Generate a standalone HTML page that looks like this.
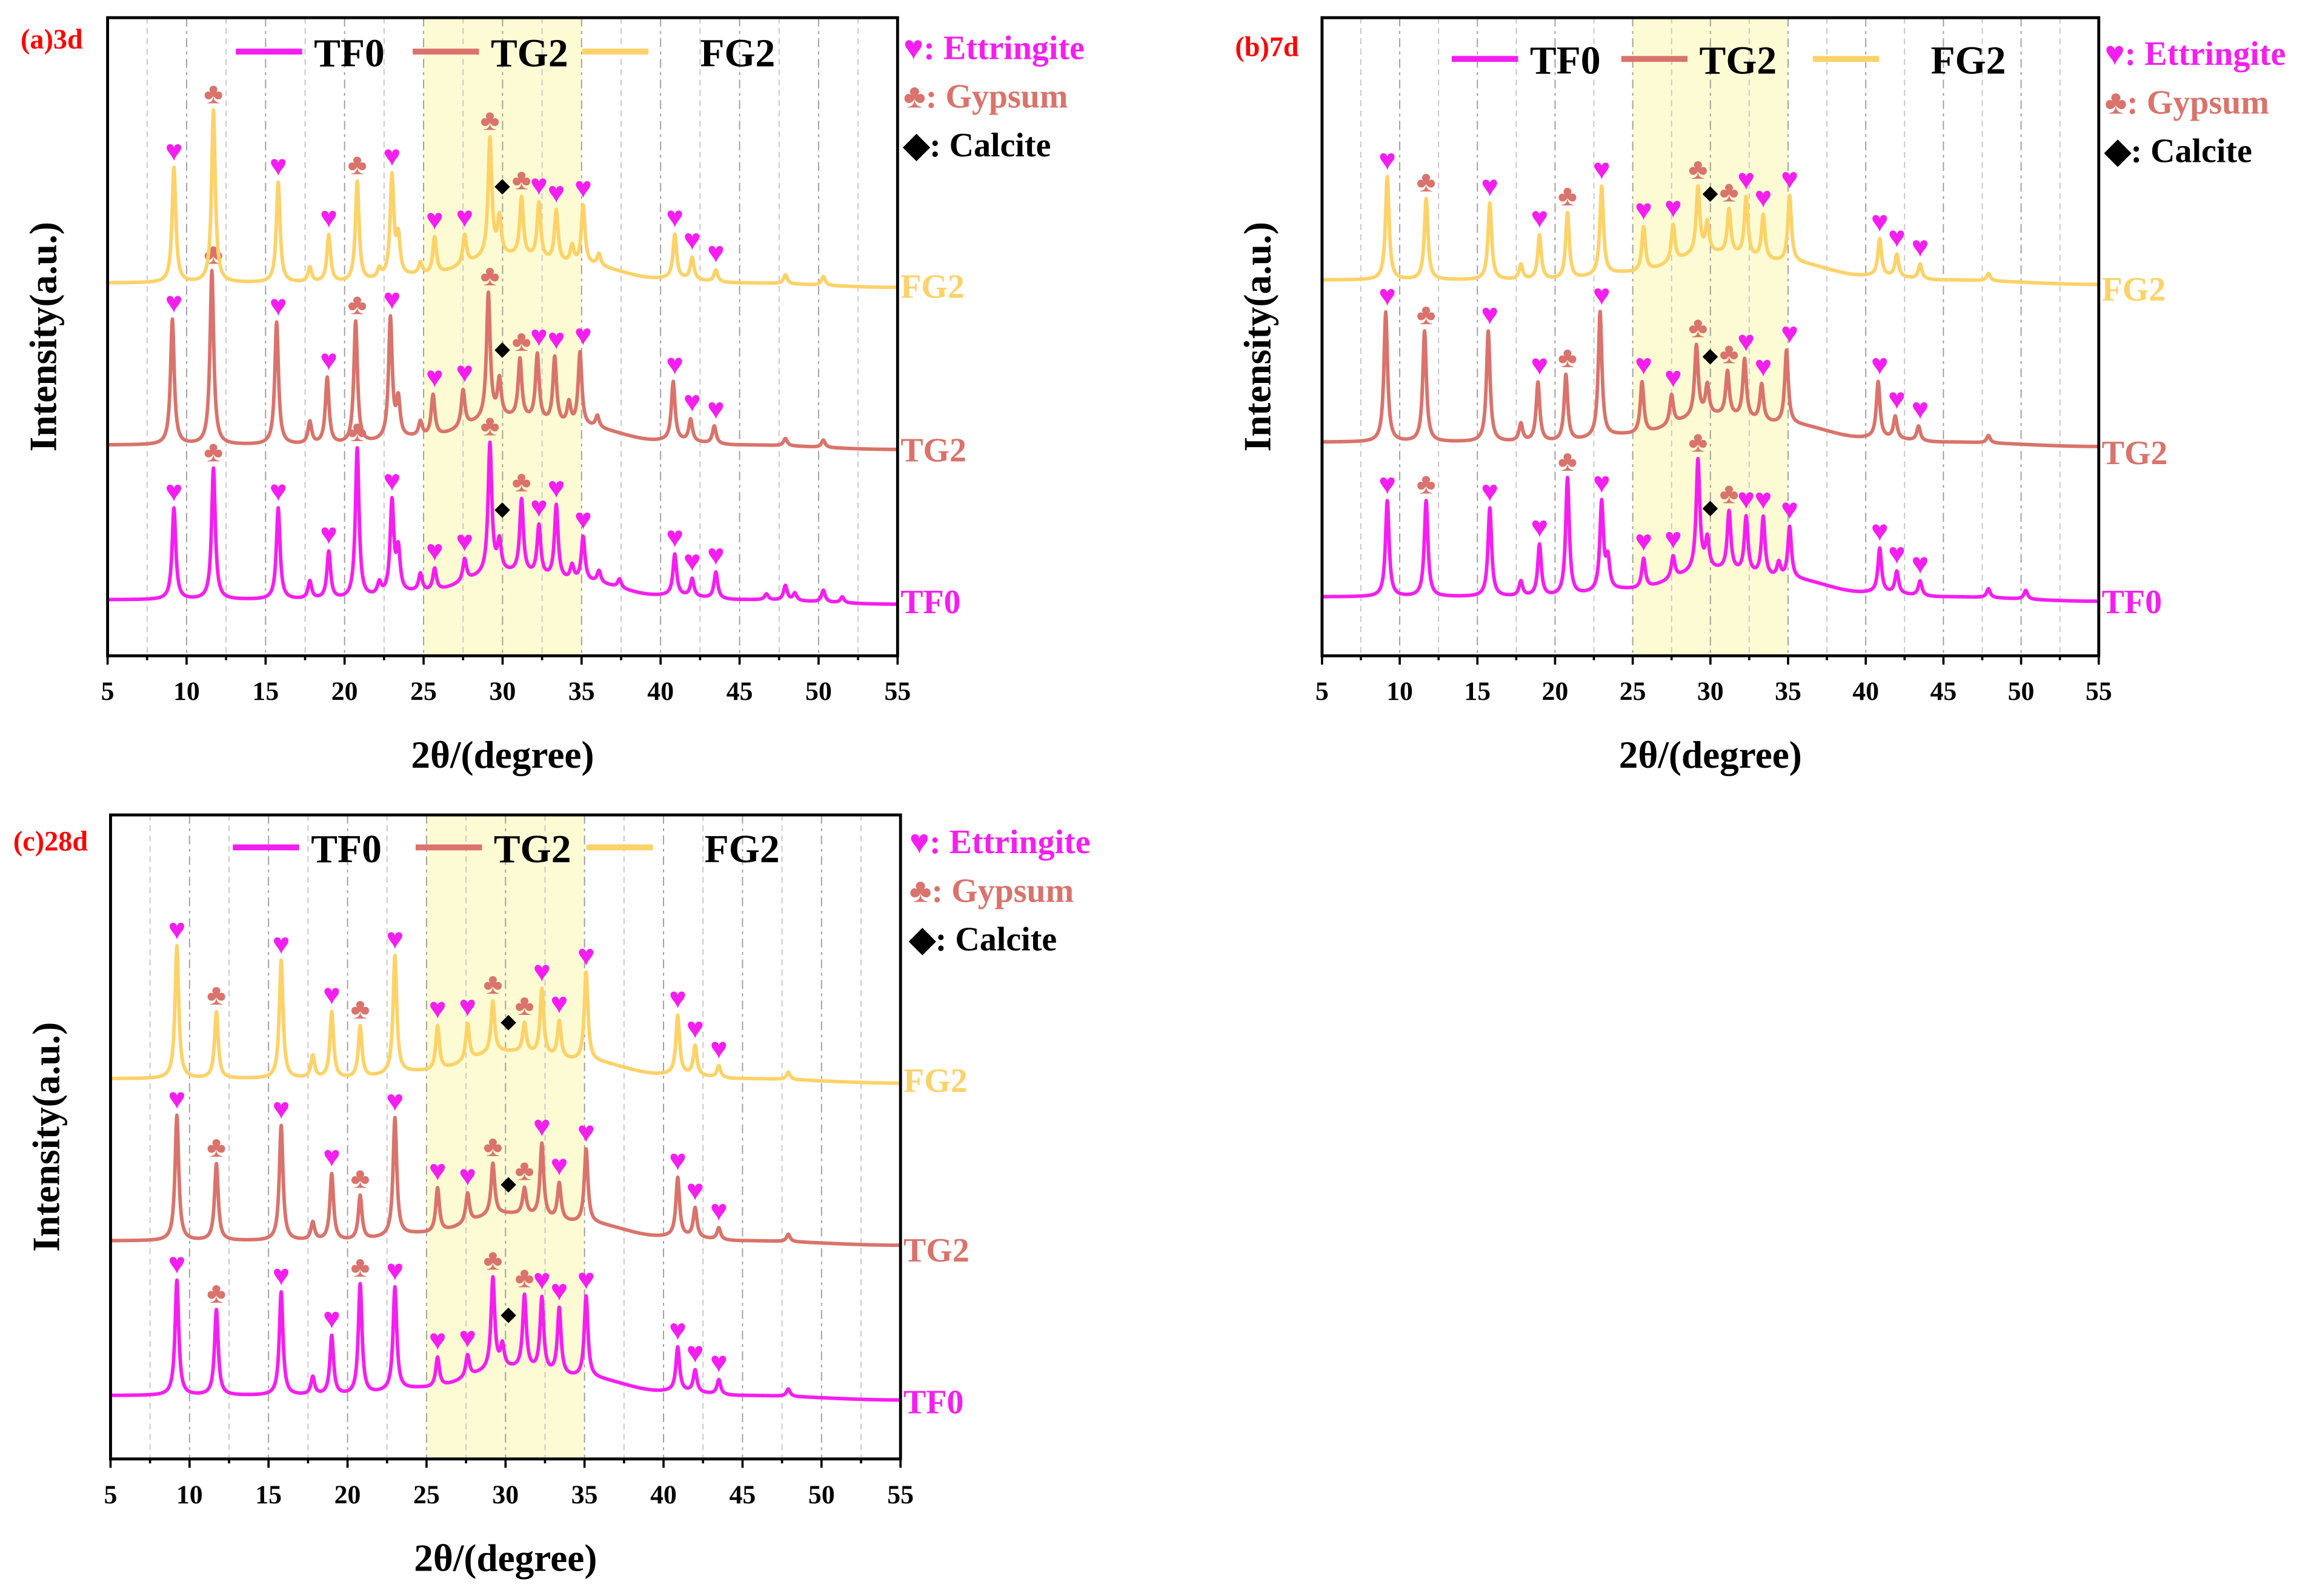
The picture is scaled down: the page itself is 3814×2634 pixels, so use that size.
<!DOCTYPE html>
<html><head><meta charset="utf-8"><style>
html,body{margin:0;padding:0;background:#fff}
svg{display:block}
text{font-family:"Liberation Serif",serif;font-weight:bold}
</style></head><body>
<svg id="chart" xmlns="http://www.w3.org/2000/svg" width="3814" height="2634" viewBox="0 0 1568 1083" preserveAspectRatio="none"></svg>
<script>
// ---- data ----
const xTicks = [5,10,15,20,25,30,35,40,45,50,55];
const seriesNames = ["TF0","TG2","FG2"];
const seriesOffsets = [0,105,215];
const bgX = [5,20,25,30,35,40,45,55];
const bgY = [0,0,5,18,12,3,0,-3];
// panel a (3d)
const a_TF0_pos = [9.2,11.7,15.8,17.8,19.0,20.8,22.2,23.0,23.4,24.8,25.7,27.6,29.2,29.8,31.2,32.3,33.4,34.4,35.1,36.1,37.4,40.9,42.0,43.5,46.7,47.9,48.5,50.3,51.5];
const a_TF0_h   = [62,89,62,12,32,102,8,62,28,12,15,15,88,20,50,34,50,10,30,8,6,28,12,18,4,10,5,8,4];
const a_TG2_pos = [9.1,11.6,15.7,17.8,18.9,20.7,22.9,23.4,24.8,25.6,27.5,29.1,29.8,31.1,32.2,33.3,34.2,34.9,36.0,40.8,41.9,43.4,47.9,50.3];
const a_TG2_h   = [85,118,83,15,45,83,82,25,10,28,25,85,25,40,45,45,15,50,8,40,15,12,5,5];
const a_FG2_pos = [9.2,11.7,15.8,17.8,19.0,20.8,22.2,23.0,23.4,24.8,25.7,27.6,29.2,29.8,31.2,32.3,33.4,34.4,35.1,36.1,40.9,42.0,43.5,47.9,50.3];
const a_FG2_h   = [78,117,68,10,32,68,6,68,25,8,25,20,80,25,40,38,35,12,40,8,30,15,8,6,6];
// panel b (7d)
const b_TF0_pos = [9.2,11.7,15.8,17.8,19.0,20.8,23.0,23.4,25.7,27.6,29.2,29.8,31.2,32.3,33.4,34.4,35.1,40.9,42.0,43.5,47.9,50.3];
const b_TF0_h   = [65,65,60,10,35,80,60,20,20,15,75,20,40,38,40,10,35,30,15,10,6,6];
const b_TG2_pos = [9.1,11.6,15.7,17.8,18.9,20.7,22.9,25.6,27.5,29.1,29.8,31.1,32.2,33.3,34.9,40.8,41.9,43.4,47.9];
const b_TG2_h   = [88,75,75,12,40,45,85,35,20,48,20,30,40,25,50,38,15,10,5];
const b_FG2_pos = [9.2,11.7,15.8,17.8,19.0,20.8,23.0,25.7,27.6,29.2,29.8,31.2,32.3,33.4,35.1,40.9,42.0,43.5,47.9];
const b_FG2_h   = [70,55,52,10,30,45,60,30,25,45,20,30,40,30,45,25,15,10,5];
// panel c (28d)
const c_TF0_pos = [9.2,11.7,15.8,17.8,19.0,20.8,23.0,25.7,27.6,29.2,29.8,31.2,32.3,33.4,35.1,40.9,42.0,43.5,47.9];
const c_TF0_h   = [78,58,70,12,40,75,70,20,15,62,15,50,50,45,55,30,15,10,5];
const c_TG2_pos = [9.2,11.7,15.8,17.8,19.0,20.8,23.0,25.7,27.6,29.2,31.2,32.3,33.4,35.1,40.9,42.0,43.5,47.9];
const c_TG2_h   = [85,52,78,12,45,30,80,30,20,35,18,50,25,50,40,20,8,5];
const c_FG2_pos = [9.2,11.7,15.8,17.8,19.0,20.8,23.0,25.7,27.6,29.2,31.2,32.3,33.4,35.1,40.9,42.0,43.5,47.9];
const c_FG2_h   = [90,45,80,15,45,35,80,30,25,35,20,45,25,60,40,20,8,5];
// phase markers: E=ettringite, G=gypsum, C=calcite
const a_markPos = [9.2,11.7,15.8,19.0,20.8,23.0,25.7,27.6,29.2,29.8,31.2,32.3,33.4,35.1,40.9,42.0,43.5];
const a_markType= ["E","G","E","E","G","E","E","E","G","C","G","E","E","E","E","E","E"];
const b_markPos = [9.2,11.7,15.8,19.0,20.8,23.0,25.7,27.6,29.2,29.8,31.2,32.3,33.4,35.1,40.9,42.0,43.5];
const b_markType= ["E","G","E","E","G","E","E","E","G","C","G","E","E","E","E","E","E"];
const c_markPos = [9.2,11.7,15.8,19.0,20.8,23.0,25.7,27.6,29.2,30.0,31.2,32.3,33.4,35.1,40.9,42.0,43.5];
const c_markType= ["E","G","E","E","G","E","E","E","G","C","G","E","E","E","E","E","E"];

const colors = {TF0:"#f51ef0",TG2:"#d9736b",FG2:"#fdd268"};
const markColor = {E:"#f51ef0",G:"#d9736b",C:"#000"};
const markGlyph = {E:"\u2665",G:"\u2663",C:"\u25C6"};

const panels = [
 {id:"a",label:"(a)3d",L:73,R:609,T:12,B:445,base:38,lab:[14,33],leg:35,legX:[160,280,395],ann:[613,32],ser:[408,305,194],
  data:[[a_TF0_pos,a_TF0_h],[a_TG2_pos,a_TG2_h],[a_FG2_pos,a_FG2_h]],mk:[a_markPos,a_markType]},
 {id:"b",label:"(b)7d",L:897,R:1424,T:12,B:445,base:40,lab:[838,38],leg:40,legX:[985,1100,1230],ann:[1428,36],ser:[408,307,196],
  data:[[b_TF0_pos,b_TF0_h],[b_TG2_pos,b_TG2_h],[b_FG2_pos,b_FG2_h]],mk:[b_markPos,b_markType]},
 {id:"c",label:"(c)28d",L:75,R:611,T:553,B:990,base:43,lab:[9,577],leg:575,legX:[158,282,398],ann:[617,571],ser:[951,848,733],
  data:[[c_TF0_pos,c_TF0_h],[c_TG2_pos,c_TG2_h],[c_FG2_pos,c_FG2_h]],mk:[c_markPos,c_markType]}
];

const svg = document.getElementById('chart');
const NS = "http://www.w3.org/2000/svg";
function mk(tag, attrs, parent){const e=document.createElementNS(NS,tag);for(const k in attrs)e.setAttribute(k,attrs[k]);(parent||svg).appendChild(e);return e;}
function bg(x){for(let i=0;i<bgX.length-1;i++){if(x<=bgX[i+1]){const t=(x-bgX[i])/(bgX[i+1]-bgX[i]);return bgY[i]+(bgY[i+1]-bgY[i])*(0.5-0.5*Math.cos(Math.PI*t));}}return bgY[bgY.length-1];}
function inten(x,pos,h){let s=bg(x);for(let i=0;i<pos.length;i++){const d=(x-pos[i])/0.14;s+=h[i]/(1+d*d);}return s;}

panels.forEach(p=>{
  const g = mk('g',{}, svg);
  
  
  const xs = v=>p.L+(v-5)/50*(p.R-p.L);
  const ys = v=>p.B-p.base-v;
  const sh = mk('rect',{x:xs(25),y:p.T,width:xs(35)-xs(25),height:p.B-p.T,fill:"#fdfbd3"},g);
  
  
  for(let v=7.5; v<55; v+=2.5){
    const major = (v%5===0);
    const gl = mk('line',{x1:xs(v),x2:xs(v),y1:p.T,y2:p.B,stroke:major?"#a0a0a0":"#c8c8c8","stroke-width":0.8,"stroke-dasharray":major?"6,3,2,3":"4,3"},g);
    
    
  }
  p.data.forEach((d,si)=>{
    let pts=[];
    for(let x=5;x<=55.0001;x+=0.025){pts.push(xs(x).toFixed(2)+","+(ys(inten(x,d[0],d[1])+seriesOffsets[si])).toFixed(2));}
    const pl = mk('polyline',{points:pts.join(" "),fill:"none",stroke:colors[seriesNames[si]],"stroke-width":2.4,"stroke-linejoin":"round"},g);
    
    
    const sl = mk('text',{x:p.R+2,y:p.ser[si]+8,fill:colors[seriesNames[si]],"font-size":23},g);
    sl.textContent = seriesNames[si];
    
    
    p.mk[0].forEach((mx,mi)=>{
      const t=p.mk[1][mi];
      let top=-1e9;
      for(let x=mx-0.25;x<=mx+0.25;x+=0.02){top=Math.max(top,inten(x,d[0],d[1]));}
      const m = mk('text',{x:xs(mx)+(t==="C"?2:0),y:ys(top+seriesOffsets[si])-(t==="C"?14:5),fill:markColor[t],"font-size":t==="C"?13:20,"text-anchor":"middle"},g);
      m.textContent = markGlyph[t];
      
      
    });
  });
  const fr = mk('rect',{x:p.L,y:p.T,width:p.R-p.L,height:p.B-p.T,fill:"none",stroke:"#000","stroke-width":2},g);
  
  
  for(let v=5; v<=55; v+=2.5){
    const major=(v%5===0);
    const tk = mk('line',{x1:xs(v),x2:xs(v),y1:p.B,y2:p.B+(major?6:3),stroke:"#000","stroke-width":1.5},g);
    
    
  }
  xTicks.forEach(v=>{
    const tl = mk('text',{x:xs(v),y:p.B+30,"font-size":18,"text-anchor":"middle",fill:"#000"},g);
    tl.textContent = v;
    
    
  });
  const xt = mk('text',{x:(p.L+p.R)/2,y:p.B+76,"font-size":26,"text-anchor":"middle",fill:"#000"},g);
  xt.textContent = "2\u03B8/(degree)";
  
  
  const cy=(p.T+p.B)/2, cx=p.L-35;
  const yt = mk('text',{x:cx,y:cy,"font-size":26,"text-anchor":"middle",fill:"#000",transform:`rotate(-90 ${cx} ${cy})`},g);
  yt.textContent = "Intensity(a.u.)";
  
  
  const pl = mk('text',{x:p.lab[0],y:p.lab[1],"font-size":19,fill:"#f00"},g);
  pl.textContent = p.label;
  
  
  seriesNames.forEach((n,i)=>{
    const ll = mk('line',{x1:p.legX[i],x2:p.legX[i]+45,y1:p.leg,y2:p.leg,stroke:colors[n],"stroke-width":4},g);
    
    
    const lt = mk('text',{x:p.legX[i]+53+(i===2?27:0),y:p.leg+10,"font-size":27,fill:"#000"},g);
    lt.textContent = n;
    
    
  });
  const ann=[["\u2665: Ettringite","#f51ef0"],["\u2663: Gypsum","#d9736b"],["\u25C6: Calcite","#000"]];
  ann.forEach((a,i)=>{
    const at = mk('text',{x:p.ann[0],y:p.ann[1]+i*33+8,"font-size":23,fill:a[1]},g);
    at.textContent = a[0];
    
    
  });
});
</script>
</body></html>
